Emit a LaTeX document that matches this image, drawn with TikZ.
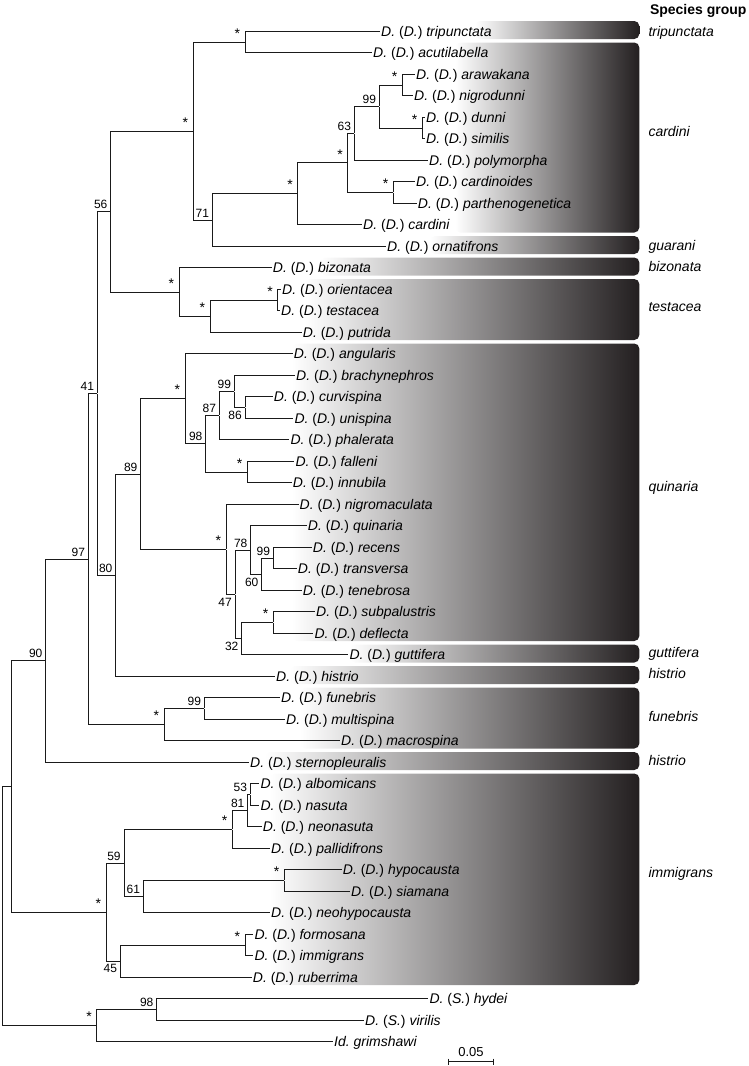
\documentclass[tikz,border=0pt]{standalone}
\usepackage{fontspec}
\setmainfont{Liberation Sans}
\usetikzlibrary{positioning}
\definecolor{boxdark}{HTML}{231F20}
\definecolor{branch}{HTML}{1A1A1A}
\newcommand{\spD}[1]{\textit{D.}~(\textit{D.})~\textit{#1}}
\newcommand{\spS}[1]{\textit{D.}~(\textit{S.})~\textit{#1}}

\begin{document}
\begin{tikzpicture}[x=1pt, y=-1pt,
  br/.style={draw=branch, line width=1pt},
  pt/.style={inner sep=0pt, minimum size=0pt},
  leaf/.style={anchor=west, inner xsep=1pt, inner ysep=0pt, text height=10pt, text depth=0pt, font=\fontsize{14}{16}\selectfont},
  grp/.style={anchor=west, inner sep=0pt, text height=10pt, text depth=0pt, font=\fontsize{14}{16}\selectfont\itshape},
  hdr/.style={anchor=east, inner sep=0pt, text height=10pt, text depth=0pt, font=\fontsize{14}{16}\selectfont\bfseries},
  bsu/.style={inner sep=0pt, font=\fontsize{12}{14}\selectfont, xshift=-10pt, yshift=7pt},
  bsd/.style={inner sep=0pt, font=\fontsize{12}{14}\selectfont, xshift=-10pt, yshift=-7.7pt},
  star/.style={inner sep=0pt, font=\fontsize{14}{16}\selectfont, xshift=-7.7pt, yshift=8.75pt},
  box/.style={rounded corners=5pt, left color=white, right color=boxdark}]
\useasboundingbox (0,0) rectangle (749,1066);

% species group boxes
\foreach \xl/\ya/\yb in {475/21/39, 455/42.5/232.5, 430/236/254, 320/257.5/275.5,
  305/279/340, 292/343.5/641, 350/644.5/662.5, 290/666/684, 300/687.5/748.5,
  265/752/770, 270/773.5/985}
  \path[box] (\xl,\ya) rectangle (639.3,\yb);

% taxa
\foreach \i/\x/\nm in {
  1/380/tripunctata, 2/372/acutilabella, 3/415/arawakana, 4/413/nigrodunni,
  5/425/dunni, 6/425/similis, 7/428/polymorpha, 8/415/cardinoides,
  9/416.7/parthenogenetica, 10/362/cardini, 11/386/ornatifrons, 12/271.7/bizonata,
  13/281/orientacea, 14/280/testacea, 15/301.7/putrida, 16/292.7/angularis,
  17/295/brachynephros, 18/272.7/curvispina, 19/293.3/unispina, 20/289.3/phalerata,
  21/294.3/falleni, 22/291.7/innubila, 23/298.5/nigromaculata, 24/306.7/quinaria,
  25/311.7/recens, 26/296.7/transversa, 27/301.7/tenebrosa, 28/315/subpalustris,
  29/313.3/deflecta, 30/348.3/guttifera, 31/275/histrio, 32/280/funebris,
  33/285/multispina, 34/340/macrospina, 35/249/sternopleuralis, 36/259.3/albomicans,
  37/259.3/nasuta, 38/261.7/neonasuta, 39/270/pallidifrons, 40/341.7/hypocausta,
  41/350/siamana, 42/270/neohypocausta, 43/253.3/formosana, 44/253.3/immigrans,
  45/251.7/ruberrima}
  \node[leaf] (l\i) at (\x,{31.3+(\i-1)*21.5}) {\spD{\nm}};
\node[leaf] (l46) at (428.3,998.8) {\spS{hydei}};
\node[leaf] (l47) at (364,1020.3) {\spS{virilis}};
\node[leaf] (l48) at (333,1041.8) {\textit{Id.\ grimshawi}};

% inner nodes
\foreach \n/\x/\y in {
  nTA/245/42.05, nAN/402.3/85.05, nDS/422.3/128.05, n99a/379.3/106.55,
  n63/354.3/133.4, nCP/393.3/192.55, nS347/347.7/162.98, nS297/297.7/193.9,
  n71/212.3/220.1, nS193/193/131.1, nOT/277.7/300.05, nTP/210/316.2,
  nBT/179/292, n56/110.7/211.55,
  n86/245/407.55, n99b/234.3/391.4, n87/219.3/415.6, nFI/247.3/472.05,
  n98/205.7/443.8, nQ1/185/398.8, n99c/273.3/558.05, n60/261.7/574.2,
  n78/250.7/550, nSD/273.3/622.55, n32/241.7/638.7, n47/235/594.35,
  nQ2/226/549.3, n89/140.7/474.05, n80/115.7/575.2, n41/97.3/393.4,
  n99d/204.3/708.55, nFU/164/724.7, n97/88.3/559.05, n90/45.7/660.7,
  n53/250.3/794.55, n81/247.7/810.7, nPA/232.3/829.5, nHS/284.3/880.55,
  n61/143.3/896.7, n59/124/863.1, nFO/245/945.05, n45/120.3/961.2,
  nIM/106/912.15, nIN/11.7/786.4, n98b/156.7/1009.55, nOU/96.7/1025.7,
  root/2.7/906.05}
  \node[pt] (\n) at (\x,\y) {};

% branches
\foreach \a/\b in {
  nTA/l1.west, nTA/l2.west, nAN/l3.west, nAN/l4.west, nDS/l5.west, nDS/l6.west,
  n99a/nAN, n99a/nDS, n63/n99a, n63/l7.west, nCP/l8.west, nCP/l9.west,
  nS347/n63, nS347/nCP, nS297/nS347, nS297/l10.west, n71/nS297, n71/l11.west,
  nS193/nTA, nS193/n71, nOT/l13.west, nOT/l14.west, nTP/nOT, nTP/l15.west,
  nBT/l12.west, nBT/nTP, n56/nS193, n56/nBT,
  n86/l18.west, n86/l19.west, n99b/l17.west, n99b/n86, n87/n99b, n87/l20.west,
  nFI/l21.west, nFI/l22.west, n98/n87, n98/nFI, nQ1/l16.west, nQ1/n98,
  n99c/l25.west, n99c/l26.west, n60/n99c, n60/l27.west, n78/l24.west, n78/n60,
  nSD/l28.west, nSD/l29.west, n32/nSD, n32/l30.west, n47/n78, n47/n32,
  nQ2/l23.west, nQ2/n47, n89/nQ1, n89/nQ2, n80/n89, n80/l31.west, n41/n56, n41/n80,
  n99d/l32.west, n99d/l33.west, nFU/n99d, nFU/l34.west, n97/n41, n97/nFU,
  n90/n97, n90/l35.west,
  n53/l36.west, n53/l37.west, n81/n53, n81/l38.west, nPA/n81, nPA/l39.west,
  nHS/l40.west, nHS/l41.west, n61/nHS, n61/l42.west, n59/nPA, n59/n61,
  nFO/l43.west, nFO/l44.west, n45/nFO, n45/l45.west, nIM/n59, nIM/n45,
  nIN/n90, nIN/nIM, n98b/l46.west, n98b/l47.west, nOU/n98b, nOU/l48.west,
  root/nIN, root/nOU}
  \draw[br] (\a) |- (\b);

% support values
\foreach \n in {nTA, nS193, nS297, nS347, nAN, nDS, nCP, nBT, nTP, nOT, nQ1, nFI,
  nQ2, nSD, nFU, nPA, nHS, nIM, nFO, nOU}
  \node[star] (s\n) at (\n) {*};
\foreach \n/\v in {n56/56, n71/71, n63/63, n99a/99, n41/41, n97/97, n90/90, n80/80,
  n89/89, n98/98, n87/87, n99b/99, n78/78, n99c/99, n99d/99, n53/53, n81/81,
  n59/59, n61/61, n98b/98}
  \node[bsu] (b\n) at (\n) {\v};
\foreach \n/\v in {n86/86, n60/60, n47/47, n32/32, n45/45}
  \node[bsd] (b\n) at (\n) {\v};

% group names
\node[hdr] (hdr) at (746.7,9.5) {Species group};
\foreach \nm/\y [count=\k] in {tripunctata/31.7, cardini/131, guarani/245.7,
  bizonata/266.7, testacea/306, quinaria/486, guttifera/652.3, histrio/673.3,
  funebris/716.7, histrio/760, immigrans/872.7}
  \node[grp] (g\k) at (648.3,\y) {\nm};

% scale bar
\coordinate (sb0) at (448.3,1061.7);
\coordinate (sb1) at (493.3,1061.7);
\draw[br] (sb0) -- (sb1);
\draw[br] ([yshift=3pt]sb0) -- ([yshift=-3pt]sb0) ([yshift=3pt]sb1) -- ([yshift=-3pt]sb1);
\node[inner sep=0pt, font=\fontsize{13}{15}\selectfont] (sbl) at (471,1052.5) {0.05};
\end{tikzpicture}
\end{document}
